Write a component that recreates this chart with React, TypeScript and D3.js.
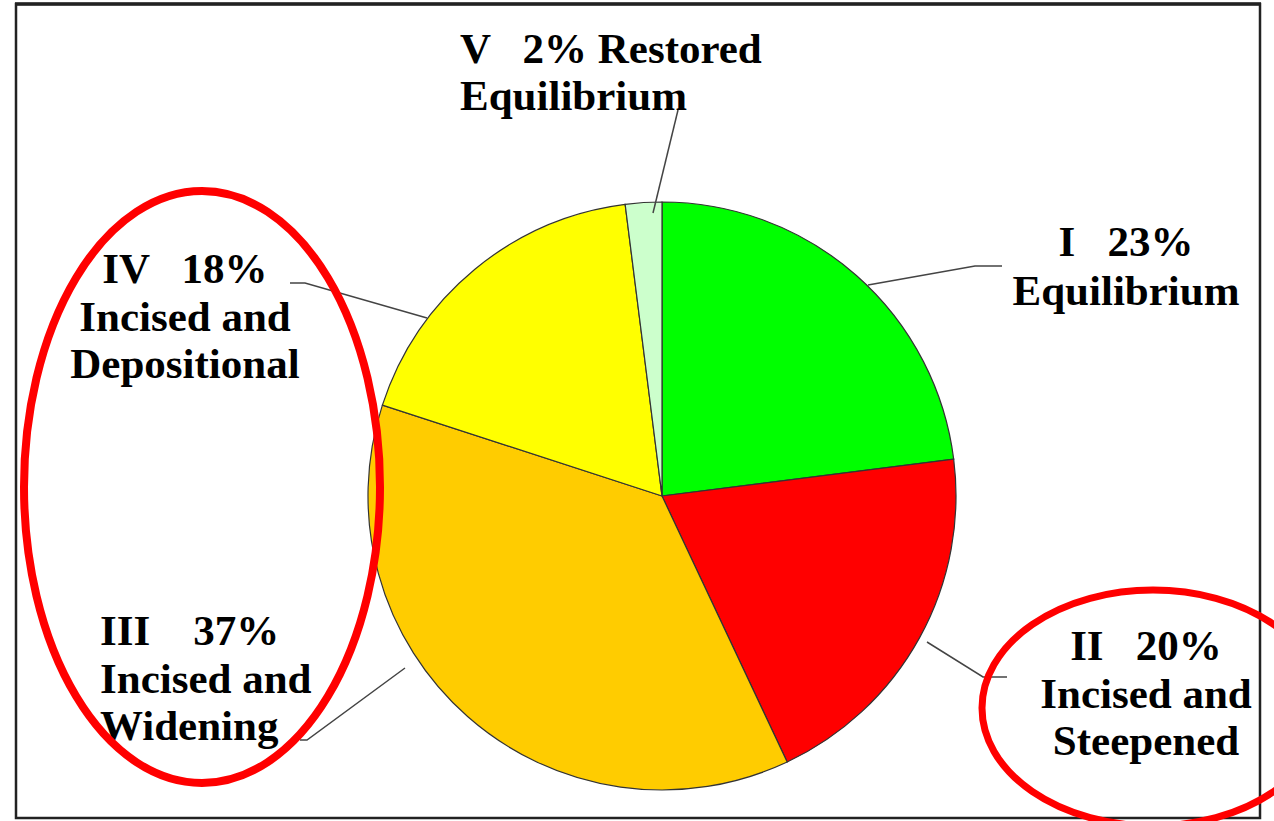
import React from "react";
import * as d3 from "d3";

const categories = ["I", "II", "III", "IV", "V"];
const percents = [23, 20, 37, 18, 2];
const descriptions = [
  ["Equilibrium"],
  ["Incised and", "Steepened"],
  ["Incised and", "Widening"],
  ["Incised and", "Depositional"],
  ["Restored", "Equilibrium"],
];
const colors = ["#00FF00", "#FF0000", "#FFCC00", "#FFFF00", "#CCFFCC"];

const W = 1274;
const H = 821;
const cx = 662;
const cy = 496;
const R = 294;

type LabelLayout = {
  x: number;
  y: number;
  anchor: "start" | "middle";
  lh: number;
  leader: [number, number][];
};
const layouts: LabelLayout[] = [
  { x: 1126, y: 256, anchor: "middle", lh: 49, leader: [[868, 285], [975, 266], [1002, 266]] },
  { x: 1146, y: 660, anchor: "middle", lh: 47.5, leader: [[927, 642], [983, 677], [1007, 677]] },
  { x: 100, y: 645, anchor: "start", lh: 47.5, leader: [[405, 668], [307, 740], [300, 740]] },
  { x: 185, y: 283, anchor: "middle", lh: 47.5, leader: [[427, 318], [305, 283], [290, 283]] },
  { x: 460, y: 63, anchor: "start", lh: 47, leader: [[653, 213], [678, 110]] },
];

function labelLines(i: number): string[] {
  const pct = `${percents[i]}%`;
  const c = categories[i];
  if (i === 4) return [`${c}   ${pct} ${descriptions[i][0]}`, descriptions[i][1]];
  if (i === 2) return [`${c}    ${pct}`, ...descriptions[i]];
  return [`${c}   ${pct}`, ...descriptions[i]];
}

export default function App() {
  const pie = d3
    .pie<number>()
    .sort(null)
    .value((d) => d)
    .startAngle(0)
    .endAngle(2 * Math.PI);
  const arcs = pie(percents);
  const arc = d3.arc<d3.PieArcDatum<number>>().innerRadius(0).outerRadius(R);
  const line = d3.line();

  return (
    <svg
      width={W}
      height={H}
      style={{ position: "absolute", left: 0, top: 0, background: "#fff" }}
      fontFamily="'Liberation Serif', 'Times New Roman', serif"
    >
      <rect x={0} y={0} width={W} height={H} fill="#fff" />
      <rect x={16} y={4} width={1244} height={814} fill="none" stroke="#222" strokeWidth={2.5} />
      <line x1={15} x2={1261} y1={4} y2={4} stroke="#222" strokeWidth={3.5} />
      <g transform={`translate(${cx},${cy})`}>
        {arcs.map((a, i) => (
          <path key={i} d={arc(a) || ""} fill={colors[i]} stroke="#333" strokeWidth={1.2} />
        ))}
      </g>
      {layouts.map((l, i) => (
        <path key={"ld" + i} d={line(l.leader) || ""} fill="none" stroke="#444" strokeWidth={1.5} />
      ))}
      {layouts.map((l, i) => (
        <text
          key={"t" + i}
          x={l.x}
          y={l.y}
          textAnchor={l.anchor}
          fontSize={43}
          fontWeight="bold"
          fill="#000"
          style={{ whiteSpace: "pre" }}
        >
          {labelLines(i).map((s, j) => (
            <tspan key={j} x={l.x} y={l.y + j * l.lh}>
              {s}
            </tspan>
          ))}
        </text>
      ))}
      <ellipse cx={202} cy={487} rx={178} ry={296} fill="none" stroke="#FF0000" strokeWidth={8} />
      <ellipse cx={1153} cy={708} rx={171} ry={118} fill="none" stroke="#FF0000" strokeWidth={7} />
    </svg>
  );
}
